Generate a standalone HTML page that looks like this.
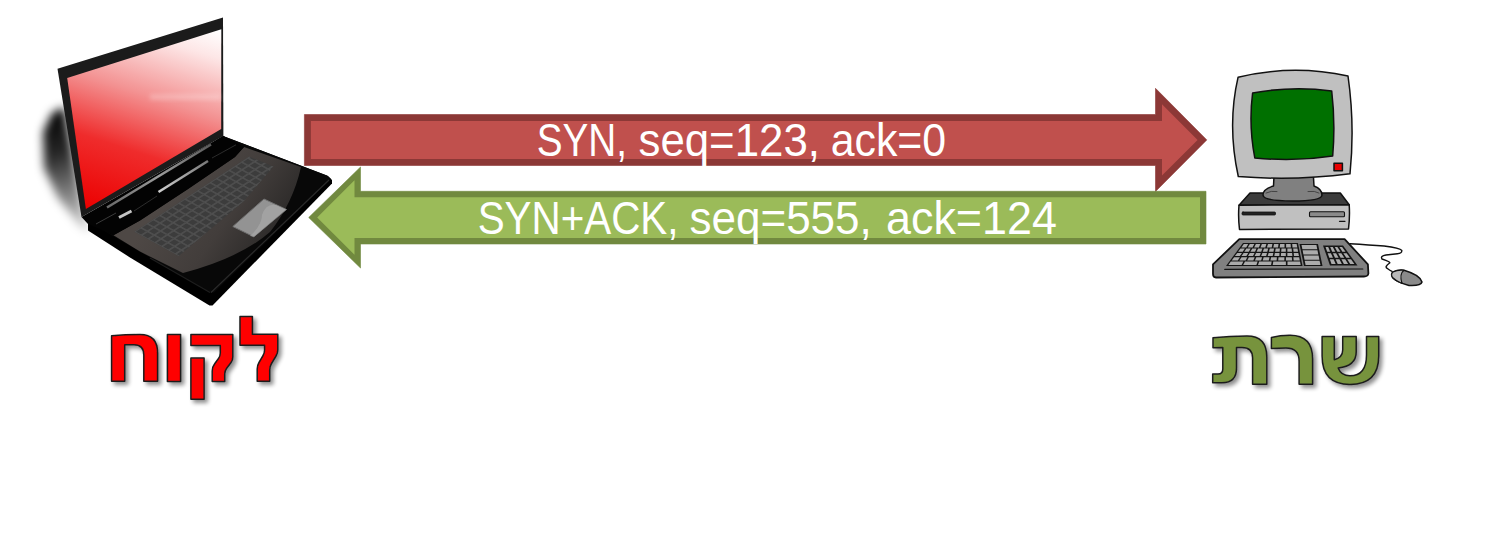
<!DOCTYPE html>
<html><head><meta charset="utf-8">
<style>
html,body{margin:0;padding:0;background:#fff;}
body{width:1502px;height:544px;overflow:hidden;position:relative;}
svg{position:absolute;left:0;top:0;display:block;}
</style></head>
<body>
<svg width="1502" height="544" viewBox="0 0 1502 544">
<defs>
  <filter id="blur6" x="-50%" y="-50%" width="200%" height="200%"><feGaussianBlur stdDeviation="6"/></filter>
  <filter id="tshadow" x="-20%" y="-20%" width="140%" height="140%">
    <feGaussianBlur in="SourceAlpha" stdDeviation="2.2" result="b"/>
    <feOffset dx="2.5" dy="2.5" result="o"/>
    <feComponentTransfer in="o" result="s"><feFuncA type="linear" slope="0.45"/></feComponentTransfer>
    <feMerge><feMergeNode in="s"/><feMergeNode in="SourceGraphic"/></feMerge>
  </filter>
  <filter id="blur8" x="-80%" y="-50%" width="260%" height="200%"><feGaussianBlur stdDeviation="8"/></filter>
  <filter id="blur4" x="-80%" y="-50%" width="260%" height="200%"><feGaussianBlur stdDeviation="4"/></filter>
  <filter id="blur5" x="-80%" y="-50%" width="260%" height="200%"><feGaussianBlur stdDeviation="5"/></filter>
  <linearGradient id="shg" gradientUnits="userSpaceOnUse" x1="40" y1="112" x2="80" y2="232">
    <stop offset="0" stop-color="#000" stop-opacity="1"/>
    <stop offset="0.35" stop-color="#000" stop-opacity="0.85"/>
    <stop offset="1" stop-color="#000" stop-opacity="0.15"/>
  </linearGradient>
  <filter id="blur2" x="-50%" y="-50%" width="200%" height="200%"><feGaussianBlur stdDeviation="2"/></filter>
  <linearGradient id="deck" gradientUnits="userSpaceOnUse" x1="170" y1="190" x2="265" y2="255">
    <stop offset="0" stop-color="#4e4845"/>
    <stop offset="0.55" stop-color="#423d3b"/>
    <stop offset="1" stop-color="#2b2928"/>
  </linearGradient>
  <pattern id="keys" patternUnits="userSpaceOnUse" width="1" height="1" patternTransform="matrix(6.3,-4.1,6.8,3.75,134.4,231.7)">
    <rect x="0.08" y="0.08" width="0.84" height="0.84" fill="none" stroke="#575757" stroke-width="0.08"/>
  </pattern>
  <linearGradient id="scr" gradientUnits="userSpaceOnUse" x1="86" y1="209" x2="152" y2="8">
    <stop offset="0" stop-color="#ec0000"/>
    <stop offset="0.33" stop-color="#ef2c2c"/>
    <stop offset="0.6" stop-color="#f39292"/>
    <stop offset="0.87" stop-color="#fde6e6"/>
    <stop offset="1" stop-color="#ffffff"/>
  </linearGradient>
  <linearGradient id="strip1" gradientUnits="userSpaceOnUse" x1="107" y1="207" x2="211" y2="144">
    <stop offset="0" stop-color="#6a6a6a"/><stop offset="0.5" stop-color="#9a9a9a"/><stop offset="1" stop-color="#5a5a5a"/>
  </linearGradient>
  <linearGradient id="strip2" gradientUnits="userSpaceOnUse" x1="158" y1="192" x2="208" y2="161">
    <stop offset="0" stop-color="#d0d0d0"/><stop offset="1" stop-color="#777"/>
  </linearGradient>
</defs>

<!-- ============ ARROWS ============ -->
<polygon points="304.4,114.5 1155.5,114.5 1155.5,88.3 1206.8,139.9 1155.5,191.5 1155.5,165.5 304.4,165.5" fill="#8C3836" stroke="#8C3836" stroke-width="0.6" stroke-linejoin="round"/>
<polygon points="310.9,121 1162,121 1162,104.3 1197.6,139.9 1162,175.5 1162,159 310.9,159" fill="#C0504D"/>
<polygon points="308.7,217.5 360.5,167 360.5,191.3 1206,191.3 1206,244 360.5,244 360.5,268" fill="#71893F" stroke="#71893F" stroke-width="0.6" stroke-linejoin="round"/>
<polygon points="317.2,217.5 354.5,180.2 354.5,197.2 1200,197.2 1200,238 354.5,238 354.5,254.8" fill="#9BBB59"/>

<g font-family="Liberation Sans" font-size="46" fill="#fff">
<text x="536.7" y="155.5" textLength="90.4" lengthAdjust="spacingAndGlyphs">SYN,</text>
<text x="638.5" y="155.5" textLength="181.4" lengthAdjust="spacingAndGlyphs">seq=123,</text>
<text x="830.7" y="155.5" textLength="115.5" lengthAdjust="spacingAndGlyphs">ack=0</text>
<text x="477.7" y="234.3" textLength="200.8" lengthAdjust="spacingAndGlyphs">SYN+ACK,</text>
<text x="689.5" y="234.3" textLength="182.3" lengthAdjust="spacingAndGlyphs">seq=555,</text>
<text x="886.0" y="234.3" textLength="170.9" lengthAdjust="spacingAndGlyphs">ack=124</text>
</g>

<!-- ============ HEBREW LABELS ============ -->
<g filter="url(#tshadow)" stroke="#1e1e1e" stroke-width="1.5" stroke-linejoin="round">
  <g fill="#ff0000">
    <!-- chet -->
    <path d="M111.6,335.8 Q125,334.6 140,334.6 Q157.6,334.6 157.6,353 L157.6,381.2 L143.8,381.2 L143.8,355 Q143.8,344.7 134,344.7 L124.7,344.7 L124.7,381.2 L111.6,381.2 Z"/>
    <!-- vav -->
    <path d="M167.4,334.6 L180.6,334.6 L180.6,381.6 L167.4,381.6 Z"/>
    <!-- qof -->
    <path d="M190.9,334.6 L232.8,334.6 L232.8,357 Q232.8,360 231,362.5 L226.5,368.5 Q224.7,371 224.7,374 L224.7,381.6 L212.2,381.6 L212.2,371 Q212.2,367 214.5,364 L218.5,358.5 Q220.3,356 220.3,353 L220.3,345.6 L190.9,345.6 Z"/>
    <path d="M190.9,358.1 L204.1,358.1 L204.1,399.3 L190.9,399.3 Z"/>
    <!-- lamed -->
    <path d="M240,316.6 L252.4,316.6 L252.4,334.3 L277.8,334.3 L277.8,350 Q277.8,353 276,356 L271.5,363.5 Q269.7,366.5 269.7,370 L269.7,381.3 L257.2,381.3 L257.2,369 Q257.2,365.5 259,362.5 L262.8,356 Q264.6,353 264.6,350 L264.6,345.3 L240,345.3 Z"/>
  </g>
  <g fill="#77933C">
    <!-- tav -->
    <path d="M1213,337.8 Q1230,336 1247,336 Q1266.8,336 1266.8,357 L1266.8,384.2 L1252.6,384.2 L1252.6,358 Q1252.6,347.5 1242,347.5 L1236.5,347.5 L1236.5,368 Q1236.5,382.8 1222,382.8 L1212.7,382.8 L1212.7,374 L1218,374 Q1222.8,374 1222.8,369 L1222.8,347.5 L1213,347.8 Z"/>
    <!-- resh -->
    <path d="M1271.4,337.4 Q1280,335.3 1290,335.3 Q1312.6,335.3 1312.6,359 L1312.6,384.2 L1299.1,384.2 L1299.1,361 Q1299.1,348 1286,348 Q1280,348 1271.4,348.4 Z"/>
    <!-- shin -->
    <path d="M1322.1,336.6 L1334.3,336.6 L1334.3,359.7 Q1342.7,357.5 1342.7,350 L1342.7,336.6 L1356.2,336.6 L1356.2,352 Q1356.2,366 1338.2,368 Q1341,375.8 1350,375.8 Q1366.5,375.8 1366.5,355 L1366.5,336.6 L1378.7,336.6 L1378.7,356 Q1378.7,384.4 1350,384.4 Q1322.1,384.4 1322.1,356 Z"/>
  </g>
</g>

<!-- ============ LAPTOP ============ -->
<g id="laptop">
  <!-- shadow -->
  <path d="M64,107 L52,113 L43,132 L44,168 L58,198 L80,226 L90,234 L84,214 Z" fill="url(#shg)" filter="url(#blur5)"/>
  <!-- base side -->
  <polygon points="88,221.5 223,136 328,176 332,180 332,183.5 212.5,305.5 209.5,305.5 130,257.5 88,230.5" fill="#000"/>
  <!-- base top -->
  <polygon points="88,221.5 223,136 327,175.5 331,179 214,292.5 210,292.5" fill="#080808"/>
  <polyline points="211,292.5 329,180" fill="none" stroke="#2a2a2a" stroke-width="1.2"/>
  <polyline points="150,258 210,292.5" fill="none" stroke="#1e1e1e" stroke-width="1.2"/>
  <!-- deck gray -->
  <path d="M113.5,235.3 L140,220.5 L188,189 L235,157 L244,147 L301,167 Q293,203 270,232 Q240,258 183,273 L140,251.6 Z" fill="url(#deck)"/>
  <!-- keyboard -->
  <polygon points="134.4,231.7 249.2,156.6 273.5,166.6 244,201 178.6,256" fill="#3c3c3c"/>
  <polygon points="134.4,231.7 249.2,156.6 273.5,166.6 244,201 178.6,256" fill="url(#keys)"/>
  <!-- touchpad -->
  <polygon points="232.8,226.5 264,199 286.5,209.5 253.8,236.8" fill="#939393" stroke="#707070" stroke-width="1" stroke-linejoin="round"/>
  <path d="M250,236 Q262,225 262,215 Q266,203 276,205 L286,209.5 L254,236.8 Z" fill="#a8a8a8" opacity="0.7"/>
  <!-- hinge band -->
  <polygon points="81.5,217 223.4,136 244,147 235,157 188,189 140,220.5 113.5,235.3 88,224" fill="#030303"/>
  <polyline points="107,207.5 211,144.5" fill="none" stroke="url(#strip1)" stroke-width="2.6"/>
  <polyline points="119,217.5 131.5,211" fill="none" stroke="#c4c4c4" stroke-width="3"/>
  <polyline points="158.5,192 208,161" fill="none" stroke="url(#strip2)" stroke-width="2.6"/>
  <polyline points="96,224 116,213" fill="none" stroke="#3a3a3a" stroke-width="1"/>
  <polyline points="134,211 157,196" fill="none" stroke="#2c2c2c" stroke-width="1"/>
  <polyline points="212,158 236,144.8" fill="none" stroke="#2c2c2c" stroke-width="1"/>
  <!-- lid -->
  <polygon points="57.5,68.8 223,17.5 223.4,136 81.5,217" fill="#1b1b1b"/>
  <polygon points="67.2,78 221.3,29.2 221.2,129.1 85.9,209" fill="url(#scr)"/>
  <rect x="150" y="94" width="71" height="6" fill="#fff" opacity="0.22" filter="url(#blur2)"/>
</g>

<!-- ============ DESKTOP ============ -->
<g id="desktop" stroke="#111" stroke-width="1.5" stroke-linejoin="round" stroke-linecap="round">
  <!-- case top -->
  <polygon points="1250,193 1340.3,193 1349.2,204.8 1239,205.2" fill="#3c3c3c"/>
  <!-- case front -->
  <path d="M1239,205.2 L1349.2,204.8 Q1350,217 1348.5,229 L1239.5,229.5 Q1238,217 1239,205.2 Z" fill="#c0c0c0"/>
  <rect x="1242" y="212" width="33.5" height="3" rx="1" fill="#222" stroke-width="0.8"/>
  <rect x="1309.5" y="211.8" width="35" height="5" rx="1" fill="#8a8a8a" stroke-width="1.1"/>
  <line x1="1339.5" y1="221.3" x2="1345" y2="221.3" stroke-width="1.2"/>
  <!-- neck -->
  <path d="M1274,176 L1313.4,176 L1314,186 Q1322,189 1322,195 Q1322,201 1292.5,201 Q1263,201 1263,195 Q1263,189 1273.5,186 Z" fill="#808080"/>
  <path d="M1266,193 Q1271,190.5 1277,191.5 M1308,191.5 Q1315,190.5 1319,193" fill="none" stroke="#444" stroke-width="1"/>
  <!-- monitor -->
  <path d="M1238.1,77.2 Q1293,64 1348,76 Q1355,125 1350,173.8 Q1294,181 1238.3,176.5 Q1227,125 1238.1,77.2 Z" fill="#c0c0c0"/>
  <path d="M1252.6,93.1 Q1292,85.5 1331.7,90.9 Q1335.5,123 1332.7,155.9 Q1294,162 1254.8,157.9 Q1248.5,125 1252.6,93.1 Z" fill="#007000"/>
  <rect x="1334" y="163.2" width="8.4" height="7.6" fill="#e80000" stroke-width="1.5"/>
  <!-- keyboard -->
  <path d="M1239.3,239.1 L1344.6,239.1 L1367.9,264.4 L1368.4,273.5 Q1368,276.5 1364,276.5 L1216,277.5 Q1213,277.3 1213,274 L1213,264.4 Z" fill="#808080" stroke-width="1.8"/>
  <line x1="1224.7" y1="269.3" x2="1362.8" y2="269" stroke-width="1.2"/>
  <polygon points="1243,243 1298,243 1302.5,266 1226,266" fill="#141414" stroke="none"/>
  <polygon points="1243.8,244.1 1248.2,244.1 1246.2,247.4 1241.4,247.4" fill="#ababab" stroke="none"/>
  <polygon points="1249.8,244.1 1254.3,244.1 1252.5,247.4 1247.8,247.4" fill="#ababab" stroke="none"/>
  <polygon points="1255.9,244.1 1260.3,244.1 1258.9,247.4 1254.1,247.4" fill="#ababab" stroke="none"/>
  <polygon points="1261.9,244.1 1266.4,244.1 1265.3,247.4 1260.5,247.4" fill="#ababab" stroke="none"/>
  <polygon points="1268.0,244.1 1272.4,244.1 1271.7,247.4 1266.9,247.4" fill="#ababab" stroke="none"/>
  <polygon points="1274.0,244.1 1278.5,244.1 1278.1,247.4 1273.3,247.4" fill="#ababab" stroke="none"/>
  <polygon points="1280.1,244.1 1284.5,244.1 1284.5,247.4 1279.7,247.4" fill="#ababab" stroke="none"/>
  <polygon points="1286.1,244.1 1290.6,244.1 1290.9,247.4 1286.1,247.4" fill="#ababab" stroke="none"/>
  <polygon points="1292.2,244.1 1296.6,244.1 1297.3,247.4 1292.5,247.4" fill="#ababab" stroke="none"/>
  <polygon points="1240.5,248.5 1244.8,248.5 1242.7,251.8 1238.1,251.8" fill="#ababab" stroke="none"/>
  <polygon points="1246.4,248.5 1250.7,248.5 1248.8,251.8 1244.3,251.8" fill="#ababab" stroke="none"/>
  <polygon points="1252.3,248.5 1256.5,248.5 1255.0,251.8 1250.4,251.8" fill="#ababab" stroke="none"/>
  <polygon points="1258.1,248.5 1262.4,248.5 1261.2,251.8 1256.6,251.8" fill="#ababab" stroke="none"/>
  <polygon points="1264.0,248.5 1268.2,248.5 1267.3,251.8 1262.8,251.8" fill="#ababab" stroke="none"/>
  <polygon points="1269.8,248.5 1274.1,248.5 1273.5,251.8 1268.9,251.8" fill="#ababab" stroke="none"/>
  <polygon points="1275.7,248.5 1279.9,248.5 1279.6,251.8 1275.1,251.8" fill="#ababab" stroke="none"/>
  <polygon points="1281.5,248.5 1285.8,248.5 1285.8,251.8 1281.2,251.8" fill="#ababab" stroke="none"/>
  <polygon points="1287.4,248.5 1291.6,248.5 1292.0,251.8 1287.4,251.8" fill="#ababab" stroke="none"/>
  <polygon points="1293.2,248.5 1297.5,248.5 1298.1,251.8 1293.6,251.8" fill="#ababab" stroke="none"/>
  <polygon points="1237.3,252.9 1242.0,252.9 1239.9,256.1 1234.9,256.1" fill="#ababab" stroke="none"/>
  <polygon points="1243.6,252.9 1248.2,252.9 1246.4,256.1 1241.5,256.1" fill="#ababab" stroke="none"/>
  <polygon points="1249.8,252.9 1254.5,252.9 1253.0,256.1 1248.0,256.1" fill="#ababab" stroke="none"/>
  <polygon points="1256.1,252.9 1260.8,252.9 1259.6,256.1 1254.6,256.1" fill="#ababab" stroke="none"/>
  <polygon points="1262.4,252.9 1267.0,252.9 1266.1,256.1 1261.2,256.1" fill="#ababab" stroke="none"/>
  <polygon points="1268.6,252.9 1273.3,252.9 1272.7,256.1 1267.7,256.1" fill="#ababab" stroke="none"/>
  <polygon points="1274.9,252.9 1279.5,252.9 1279.3,256.1 1274.3,256.1" fill="#ababab" stroke="none"/>
  <polygon points="1281.1,252.9 1285.8,252.9 1285.8,256.1 1280.9,256.1" fill="#ababab" stroke="none"/>
  <polygon points="1287.4,252.9 1292.1,252.9 1292.4,256.1 1287.4,256.1" fill="#ababab" stroke="none"/>
  <polygon points="1293.7,252.9 1298.3,252.9 1299.0,256.1 1294.0,256.1" fill="#ababab" stroke="none"/>
  <polygon points="1234.1,257.2 1239.9,257.2 1237.8,260.5 1231.7,260.5" fill="#ababab" stroke="none"/>
  <polygon points="1241.5,257.2 1247.3,257.2 1245.6,260.5 1239.4,260.5" fill="#ababab" stroke="none"/>
  <polygon points="1248.9,257.2 1254.7,257.2 1253.3,260.5 1247.2,260.5" fill="#ababab" stroke="none"/>
  <polygon points="1256.3,257.2 1262.1,257.2 1261.1,260.5 1254.9,260.5" fill="#ababab" stroke="none"/>
  <polygon points="1263.7,257.2 1269.5,257.2 1268.8,260.5 1262.7,260.5" fill="#ababab" stroke="none"/>
  <polygon points="1271.1,257.2 1276.9,257.2 1276.6,260.5 1270.4,260.5" fill="#ababab" stroke="none"/>
  <polygon points="1278.5,257.2 1284.4,257.2 1284.3,260.5 1278.2,260.5" fill="#ababab" stroke="none"/>
  <polygon points="1286.0,257.2 1291.8,257.2 1292.1,260.5 1285.9,260.5" fill="#ababab" stroke="none"/>
  <polygon points="1293.4,257.2 1299.2,257.2 1299.8,260.5 1293.7,260.5" fill="#ababab" stroke="none"/>
  <polygon points="1230.8,261.6 1243.4,261.6 1241.6,264.9 1228.4,264.9" fill="#ababab" stroke="none"/>
  <polygon points="1245.0,261.6 1257.6,261.6 1256.4,264.9 1243.2,264.9" fill="#ababab" stroke="none"/>
  <polygon points="1259.2,261.6 1271.7,261.6 1271.1,264.9 1258.0,264.9" fill="#ababab" stroke="none"/>
  <polygon points="1273.3,261.6 1285.9,261.6 1285.9,264.9 1272.7,264.9" fill="#ababab" stroke="none"/>
  <polygon points="1287.5,261.6 1300.0,261.6 1300.7,264.9 1287.5,264.9" fill="#ababab" stroke="none"/>
  <polygon points="1299.5,244 1318,244 1322.5,266 1304,266" fill="#141414" stroke="none"/>
  <polygon points="1301.5,245.1 1316.4,245.1 1317.3,249.2 1302.4,249.2" fill="#ababab" stroke="none"/>
  <polygon points="1302.6,250.3 1317.5,250.3 1318.3,254.4 1303.4,254.4" fill="#ababab" stroke="none"/>
  <polygon points="1303.7,255.5 1318.6,255.5 1319.4,259.7 1304.5,259.7" fill="#ababab" stroke="none"/>
  <polygon points="1304.7,260.8 1319.6,260.8 1320.5,264.9 1305.6,264.9" fill="#ababab" stroke="none"/>
  <polygon points="1323,245.5 1343,245.5 1357.5,265.5 1330,265.5" fill="#141414" stroke="none"/>
  <polygon points="1325.5,247.0 1328.2,247.0 1330.2,251.7 1327.2,251.7" fill="#ababab" stroke="none"/>
  <polygon points="1330.2,247.0 1332.8,247.0 1335.3,251.7 1332.2,251.7" fill="#ababab" stroke="none"/>
  <polygon points="1334.8,247.0 1337.4,247.0 1340.4,251.7 1337.3,251.7" fill="#ababab" stroke="none"/>
  <polygon points="1339.4,247.0 1342.1,247.0 1345.5,251.7 1342.4,251.7" fill="#ababab" stroke="none"/>
  <polygon points="1327.7,253.2 1330.9,253.2 1333.0,257.8 1329.3,257.8" fill="#ababab" stroke="none"/>
  <polygon points="1332.9,253.2 1336.1,253.2 1338.6,257.8 1335.0,257.8" fill="#ababab" stroke="none"/>
  <polygon points="1338.1,253.2 1341.3,253.2 1344.3,257.8 1340.6,257.8" fill="#ababab" stroke="none"/>
  <polygon points="1343.3,253.2 1346.6,253.2 1349.9,257.8 1346.3,257.8" fill="#ababab" stroke="none"/>
  <polygon points="1329.8,259.3 1333.6,259.3 1335.7,264.0 1331.5,264.0" fill="#ababab" stroke="none"/>
  <polygon points="1335.6,259.3 1339.4,259.3 1341.9,264.0 1337.7,264.0" fill="#ababab" stroke="none"/>
  <polygon points="1341.4,259.3 1345.2,259.3 1348.2,264.0 1343.9,264.0" fill="#ababab" stroke="none"/>
  <polygon points="1347.2,259.3 1351.0,259.3 1354.4,264.0 1350.2,264.0" fill="#ababab" stroke="none"/>
  <!-- cable -->
  <path d="M1349.9,243.8 Q1370,245 1384.1,246 Q1400,248 1401.8,250.4 Q1402,253.5 1397.4,253.7 L1386,255 Q1380,256 1382,259 Q1391,262 1389.6,263 Q1384,267 1387.4,268.5 Q1390,270.5 1392,271.4" fill="none" stroke-width="1.4"/>
  <!-- mouse -->
  <path d="M1393,272 Q1398,269.5 1404,270.3 Q1420,275 1422,282 Q1421,286 1409,285.4 Q1396,282 1392.5,277.5 Q1390.5,274 1393,272 Z" fill="#8a8a8a"/>
  <path d="M1393,272 Q1398,269.5 1404,270.3 Q1399,274 1402,283.5 Q1396,281 1392.5,277.5 Q1390.5,274 1393,272 Z" fill="#b8b8b8" stroke-width="1.1"/>
</g>
</svg>
</body></html>
